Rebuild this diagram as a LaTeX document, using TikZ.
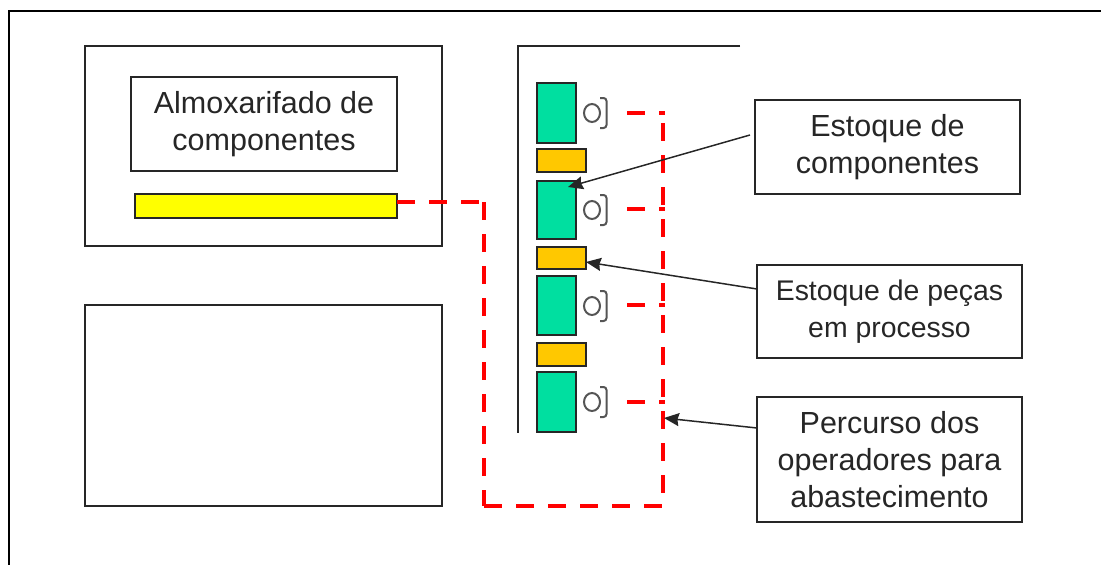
\documentclass[tikz,border=0pt]{standalone}
\usepackage{fontspec}
\setmainfont{Liberation Sans}
\usetikzlibrary{arrows.meta}
\definecolor{stationgreen}{HTML}{00DFA0}
\definecolor{wiporange}{HTML}{FFC800}
\definecolor{binyellow}{HTML}{FFFF00}
\definecolor{operatorgray}{HTML}{555555}

\begin{document}
\begin{tikzpicture}[
        x=1pt, y=-1pt,
        Box/.style={draw=black!85, line width=1.5pt, inner sep=0pt, outer sep=0pt},
        Label/.style={Box, align=center, text=black!85, font=\fontsize{30.5}{37}\selectfont},
        Station/.style={Box, fill=stationgreen, minimum width=39pt},
        Wip/.style={Box, fill=wiporange, minimum width=49pt},
        Route/.style={red, line width=3.5pt, dash pattern=on 18pt off 14pt},
        Pointer/.style={black!85, line width=1.5pt, -{Stealth[length=15pt,width=13pt,inset=1.5pt]}},
        Operator/.style={operatorgray, line width=2pt},
    ]
    \useasboundingbox (0,0) rectangle (1101,565);

    % sheet edges
    \coordinate (sheetTop) at (1101,11);
    \coordinate (sheetCorner) at (9,11);
    \coordinate (sheetBottom) at (9,565);
    \draw[black, line width=2pt] (sheetTop) -- (sheetCorner) -- (sheetBottom);

    % warehouse
    \node[Box, minimum width=357pt, minimum height=200pt] (warehouse) at (263.5,146) {};
    \node[Box, minimum width=357pt, minimum height=201pt] (emptyArea) at (263.5,405.5) {};
    \node[Label, minimum width=266pt, minimum height=94pt] (almox) at (264,124) {Almoxarifado de\\componentes};
    \node[Box, fill=binyellow, minimum width=262pt, minimum height=24pt] (yellowBin) at (266,206) {};

    % line wall
    \coordinate (wallEnd) at (740,46);
    \coordinate (wallCorner) at (518,46);
    \coordinate (wallFoot) at (518,433);
    \draw[black!85, line width=1.5pt] (wallEnd) -- (wallCorner) -- (wallFoot);

    % stations
    \node[Station, minimum height=60pt] (station1) at (556.5,113) {};
    \node[Station, minimum height=58pt] (station2) at (556.5,210) {};
    \node[Station, minimum height=59pt] (station3) at (556.5,305.5) {};
    \node[Station, minimum height=60pt] (station4) at (556.5,402) {};
    \node[Wip, minimum height=23pt] (wip1) at (561.5,160.5) {};
    \node[Wip, minimum height=22pt] (wip2) at (561.5,258) {};
    \node[Wip, minimum height=23pt] (wip3) at (561.5,354.5) {};

    % operators
    \foreach \y in {113,210,306,402}{
        \draw[Operator] (592,\y) ellipse (8pt and 9pt);
        \draw[Operator, rounded corners=3pt] (600,\y-15) -- (606.5,\y-15) -- (606.5,\y+15) -- (600,\y+15);
    }

    % supply route
    \coordinate (routeStart) at (397,202);
    \coordinate (routeBend) at (484,202);
    \coordinate (routeLow) at (484,506);
    \coordinate (routeBack) at (663,506);
    \coordinate (routeTop) at (663,123);
    \draw[Route] (routeStart) -- (routeBend);
    \draw[Route] (routeBend) -- (routeLow);
    \draw[Route] (routeLow) -- (routeBack);
    \draw[Route] (routeTop) -- (routeBack);
    \foreach \y [count=\i] in {113,209,305,402}{
        \coordinate (stubA\i) at (627,\y);
        \coordinate (stubB\i) at (665,\y);
        \draw[Route] (stubA\i) -- (stubB\i);
    }

    % labels
    \node[Label, minimum width=265pt, minimum height=94pt] (estoqueComp) at (887.5,147) {Estoque de\\componentes};
    \node[Label, font=\fontsize{28.4}{37}\selectfont, minimum width=265pt, minimum height=93pt] (estoquePecas) at (889.5,311.5) {Estoque de peças\\em processo};
    \node[Label, minimum width=265pt, minimum height=125pt] (percurso) at (889.5,459.5) {Percurso dos\\operadores para\\abastecimento};

    % pointers
    \coordinate (compFrom) at (750,135);
    \coordinate (compTip) at (568,187);
    \coordinate (pecasFrom) at (757,289);
    \coordinate (pecasTip) at (586,262);
    \coordinate (percFrom) at (757,428);
    \coordinate (percTip) at (664,418);
    \draw[Pointer] (compFrom) -- (compTip);
    \draw[Pointer] (pecasFrom) -- (pecasTip);
    \draw[Pointer] (percFrom) -- (percTip);
\end{tikzpicture}
\end{document}
